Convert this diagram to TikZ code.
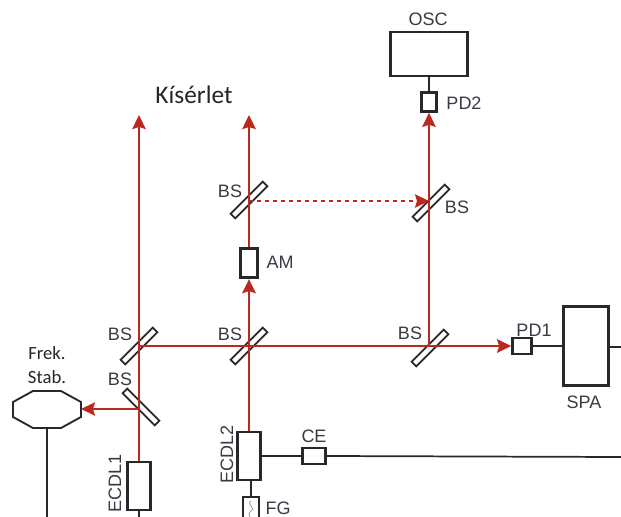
\documentclass[tikz,border=0pt]{standalone}
\usepackage{fontspec}
\usepackage{tikz}
\usetikzlibrary{arrows.meta}
\setmainfont{Liberation Sans}
\newfontfamily\calfont{Carlito}
\definecolor{beamred}{RGB}{186,40,30}
\definecolor{labelgray}{RGB}{55,58,66}
\definecolor{wiregray}{RGB}{40,40,40}
\tikzset{
  devbox/.style={draw=wiregray, line width=2.2pt, fill=white, inner sep=0pt},
  mirror/.style={draw=wiregray, line width=1.3pt, fill=white, inner sep=0pt, minimum width=34pt, minimum height=5pt},
  lbl/.style={text=labelgray, font=\fontsize{13.5}{15}\selectfont, inner sep=0pt},
  callbl/.style={text=black!85, font=\calfont\fontsize{14}{16}\selectfont, inner sep=0pt},
  beam/.style={draw=beamred, line width=1.7pt},
  beamtip/.style={-{Stealth[length=10.5pt,width=10pt,inset=1.5pt]}},
  wire/.style={draw=wiregray, line width=1.3pt}
}
\begin{document}
\begin{tikzpicture}[x=0.75pt,y=-0.75pt]
\useasboundingbox (0,0) rectangle (621,517);
% beam splitters
\node [mirror, rotate=45] (bsa) at (139,346) {};
\node [mirror, rotate=-45] (bsb) at (141,407) {};
\node [mirror, rotate=45] (bsc) at (249,346) {};
\node [mirror, rotate=45] (bsd) at (249,200) {};
\node [mirror, rotate=45] (bse) at (430,348) {};
\node [mirror, rotate=45] (bsf) at (431,203) {};
% boxes
\node [devbox, minimum width=58pt, minimum height=33pt] (osc) at (429,54) {};
\node [devbox, minimum width=11pt, minimum height=14pt] (pdb) at (429,102) {};
\node [devbox, minimum width=13pt, minimum height=22pt] (am) at (249,263) {};
\node [devbox, minimum width=14pt, minimum height=12pt] (pda) at (522,346) {};
\node [devbox, minimum width=34pt, minimum height=59pt] (spa) at (586,346) {};
\node [devbox, minimum width=17pt, minimum height=36pt] (ecdla) at (139,486) {};
\node [devbox, minimum width=17pt, minimum height=36pt] (ecdlb) at (249,456) {};
\node [devbox, minimum width=17pt, minimum height=12pt] (ce) at (314,456) {};
\node [devbox, line width=1.7pt, minimum width=12pt, minimum height=24pt] (fg) at (251,513) {};
% free ends
\coordinate (upa) at (139,115);
\coordinate (upb) at (249,115);
\coordinate (outa) at (139,517);
\coordinate (outb) at (47,517);
\coordinate (outc) at (621,347);
\coordinate (outd) at (621,457);
\coordinate (bsbhit) at (139,409);
\coordinate (stabtip) at (81,409);
\coordinate (stabfoot) at (47,428);
\coordinate (dashstart) at (249,201);
\coordinate (dashend) at (429,201);
\coordinate (turn) at (429,346);
% octagon
\draw [draw=wiregray, line width=1.4pt, fill=white] (33,391) -- (61,391) -- (81,402) -- (81,417) -- (61,428) -- (33,428) -- (13,417) -- (13,402) -- cycle;
% beams
\draw [beam, beamtip] (ecdla.north) -- (upa);
\draw [beam, line width=2.1pt, beamtip] (ecdlb.north) -- (am.south);
\draw [beam, line width=2.1pt, beamtip] (am.north) -- (upb);
\draw [beam, line width=2pt, beamtip] (bsa.center) -- (pda.west);
\draw [beam, beamtip] (turn) -- (pdb.south);
\draw [beam, line width=1.2pt, beamtip] (bsbhit) -- (stabtip);
\draw [beam, line width=1.2pt, dashed, beamtip] (dashstart) -- (dashend);
% wires
\draw [wire] (osc.south) -- (pdb.north);
\draw [wire] (pda.east) -- (spa.west);
\draw [wire] (spa.east |- outc) -- (outc);
\draw [wire] (ecdlb.east) -- (ce.west);
\draw [wire] (ce.east) -- (outd);
\draw [wire] (ecdlb.south -| fg.north) -- (fg.north);
\draw [wire, line width=1.6pt] (ecdla.south) -- (outa);
\draw [wire, line width=1.6pt] (stabfoot) -- (outb);
\draw [labelgray!60, line width=0.5pt] (251,501) .. controls (246,505) and (256,507) .. (251,511) .. controls (248,513) and (249,516) .. (250,517);
% labels
\node [lbl] (lbsa) at (120,334) {BS};
\node [lbl] (lbsb) at (120,379) {BS};
\node [lbl] (lbsc) at (230,334) {BS};
\node [lbl] (lbsd) at (230,191) {BS};
\node [lbl] (lbse) at (410,333) {BS};
\node [lbl] (lbsf) at (457,207) {BS};
\node [lbl] (losc) at (428,19) {OSC};
\node [lbl] (lpdb) at (464,103) {PD2};
\node [lbl] (lam) at (280,262) {AM};
\node [lbl] (lpda) at (534,330) {PD1};
\node [lbl] (lspa) at (584,402) {SPA};
\node [lbl] (lce) at (314,436) {CE};
\node [lbl] (lfg) at (278,508) {FG};
\node [lbl, rotate=90] (lecdla) at (115,483) {ECDL1};
\node [lbl, rotate=90] (lecdlb) at (227,454) {ECDL2};
\node [callbl] (lfrek) at (47,353) {Frek.};
\node [callbl] (lstab) at (47,377) {Stab.};
\node [callbl, font=\calfont\fontsize{19}{22}\selectfont] (lkis) at (194,95) {Kísérlet};
\end{tikzpicture}
\end{document}
